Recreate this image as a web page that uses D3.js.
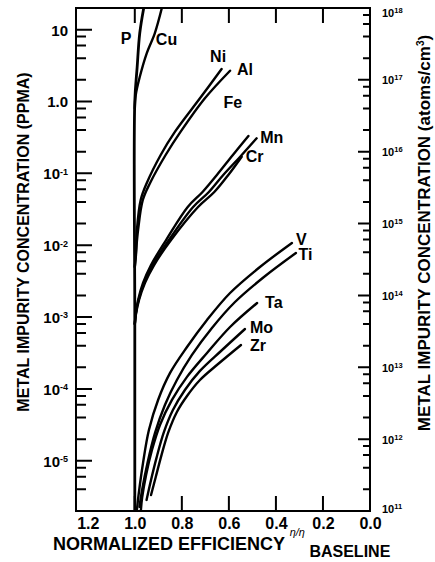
<!DOCTYPE html>
<html>
<head>
<meta charset="utf-8">
<script src="https://cdn.jsdelivr.net/npm/d3@7"></script>
<style>
  body { margin: 0; background: #fff; }
  svg { font-family: Arial, "Liberation Sans", Helvetica, sans-serif; font-weight: bold; }
  .curve { fill: none; stroke: #000; stroke-linecap: round; }
</style>
</head>
<body>
<div id="chart"></div>
<script>
// axis ticks and labels
const xTicks = [1.2, 1.0, 0.8, 0.6, 0.4, 0.2, 0.0];
const xTickLabels = ['1.2', '1.0', '0.8', '0.6', '0.4', '0.2', '0.0'];
const xInnerTicks = [1.0, 0.8, 0.6, 0.4, 0.2];
const ppmaTicks = [10, 1, 0.1, 0.01, 1e-3, 1e-4, 1e-5];
const ppmaTickLabels = [['10', ''], ['1.0', ''], ['10', '-1'], ['10', '-2'], ['10', '-3'], ['10', '-4'], ['10', '-5']];
const atomTicks = [1e11, 1e12, 1e13, 1e14, 1e15, 1e16, 1e17, 1e18];
const atomTickLabels = ['11', '12', '13', '14', '15', '16', '17', '18'];
const minorMultipliers = [2, 4, 6, 8];

// curves: [normalized efficiency, concentration in ppma]
const P = [[1.0, 2e-6], [1.0, 1e-3], [1.0, 1.0], [0.99, 3.0], [0.979, 8.9], [0.962, 20]];
const Cu = [[1.0, 0.8], [0.996, 1.23], [0.979, 2.19], [0.949, 4.72], [0.915, 8.9], [0.885, 20]];
const Ni = [[1.0, 0.005], [0.995, 0.0073], [0.991, 0.0163], [0.975, 0.0426], [0.949, 0.0734], [0.89, 0.18], [0.829, 0.38], [0.723, 1.108], [0.631, 2.83]];
const Al = [[1.0, 0.005], [0.995, 0.008], [0.986, 0.0163], [0.966, 0.0426], [0.935, 0.0734], [0.869, 0.18], [0.805, 0.38], [0.702, 1.108], [0.595, 2.68]];
const Fe = [[1.0, 8e-4], [0.995, 1.18e-3], [0.986, 1.73e-3], [0.965, 2.98e-3], [0.931, 5.3e-3], [0.867, 0.0118], [0.775, 0.034], [0.712, 0.055], [0.651, 0.0949], [0.583, 0.18], [0.517, 0.331]];
const Mn = [[1.0, 8e-4], [0.995, 1.14e-3], [0.984, 1.73e-3], [0.961, 2.98e-3], [0.923, 5.3e-3], [0.855, 0.0118], [0.752, 0.034], [0.685, 0.055], [0.624, 0.0949], [0.553, 0.169], [0.482, 0.3075]];
const Cr = [[1.0, 8e-4], [0.995, 1.1e-3], [0.982, 1.73e-3], [0.957, 2.98e-3], [0.918, 5.3e-3], [0.846, 0.0118], [0.731, 0.034], [0.662, 0.055], [0.6025, 0.0949], [0.5455, 0.1705]];
const V = [[0.991, 2.07e-6], [0.984, 3.34e-6], [0.965, 9.32e-6], [0.94, 2.68e-5], [0.901, 7.02e-5], [0.85, 1.67e-4], [0.778, 3.83e-4], [0.693, 9.1e-4], [0.595, 2.16e-3], [0.468, 4.97e-3], [0.332, 0.01074]];
const Ti = [[0.98, 2.28e-6], [0.969, 3.92e-6], [0.946, 9.32e-6], [0.914, 2.44e-5], [0.872, 5.98e-5], [0.821, 1.33e-4], [0.757, 2.97e-4], [0.672, 7.05e-4], [0.574, 1.62e-3], [0.451, 3.61e-3], [0.315, 7.79e-3]];
const Ta = [[0.974, 2.07e-6], [0.969, 3.04e-6], [0.952, 6.35e-6], [0.927, 1.41e-5], [0.893, 3.15e-5], [0.842, 7.02e-5], [0.778, 1.47e-4], [0.693, 3.16e-4], [0.595, 7.27e-4], [0.48, 1.57e-3]];
const Mo = [[0.95, 2.85e-6], [0.931, 5.4e-6], [0.908, 1.09e-5], [0.876, 2.52e-5], [0.838, 5.09e-5], [0.787, 9.66e-5], [0.723, 1.78e-4], [0.6335, 3.37e-4], [0.5315, 6.82e-4]];
const Zr = [[0.931, 3.34e-6], [0.912, 5.76e-6], [0.8865, 1.2e-5], [0.857, 2.52e-5], [0.821, 4.78e-5], [0.778, 7.97e-5], [0.723, 1.33e-4], [0.646, 2.22e-4], [0.5485, 4.09e-4]];

const series = [
  { name: 'P', points: P },
  { name: 'Cu', points: Cu },
  { name: 'Ni', points: Ni },
  { name: 'Al', points: Al },
  { name: 'Fe', points: Fe },
  { name: 'Mn', points: Mn },
  { name: 'Cr', points: Cr },
  { name: 'V', points: V },
  { name: 'Ti', points: Ti },
  { name: 'Ta', points: Ta },
  { name: 'Mo', points: Mo },
  { name: 'Zr', points: Zr },
];

// label placement relative to the last point of each curve (px)
const labelOffset = {
  P: [-23, 35.5], Cu: [-6, 37], Ni: [-11.5, -7.5], Al: [7, 4.3], Fe: [-25, -28],
  Mn: [3.5, 5], Cr: [4, 5], V: [4, 2], Ti: [2.5, 7], Ta: [8, 5], Mo: [5, 4], Zr: [9, 6.5],
};

const width = 435;
const height = 562;
const plot = { left: 76, right: 370, top: 8, bottom: 511 };

const svg = d3.select('#chart')
  .append('svg')
  .attr('width', width)
  .attr('height', height);

const x = d3.scaleLinear().domain([1.25, 0]).range([plot.left, plot.right]);
const y = d3.scaleLog().domain([2e-6, 20]).range([plot.bottom, plot.top]);
const yRight = d3.scaleLog().domain([1e11, 1e18]).range([plot.bottom, plot.top]);

const minorTicks = (domain) => {
  const out = [];
  const k0 = Math.floor(Math.log10(domain[0]));
  const k1 = Math.ceil(Math.log10(domain[1]));
  for (let k = k0; k <= k1; k++) {
    for (const m of minorMultipliers) {
      const v = m * Math.pow(10, k);
      if (v >= domain[0] * 0.999 && v <= domain[1] * 1.001) out.push(v);
    }
  }
  return out;
};

// curves
svg.append('clipPath')
  .attr('id', 'plot-clip')
  .append('rect')
  .attr('x', plot.left)
  .attr('y', plot.top)
  .attr('width', plot.right - plot.left)
  .attr('height', plot.bottom - plot.top);

const curve = d3.line()
  .x((d) => x(d[0]))
  .y((d) => y(d[1]))
  .curve(d3.curveCatmullRom.alpha(0.5));

svg.append('g')
  .attr('clip-path', 'url(#plot-clip)')
  .selectAll('path')
  .data(series)
  .join('path')
  .attr('class', 'curve')
  .attr('stroke-width', (d) => (d.name === 'P' ? 2.8 : 2.4))
  .attr('d', (d) => curve(d.points));

svg.append('g')
  .selectAll('text')
  .data(series)
  .join('text')
  .attr('font-size', 16)
  .attr('x', (d) => x(d.points[d.points.length - 1][0]) + labelOffset[d.name][0])
  .attr('y', (d) => y(d.points[d.points.length - 1][1]) + labelOffset[d.name][1])
  .text((d) => d.name);

// axis titles
svg.append('text')
  .attr('transform', 'translate(29, 242) rotate(-90)')
  .attr('text-anchor', 'middle')
  .attr('font-size', 16)
  .text('METAL IMPURITY CONCENTRATION (PPMA)');

const rightTitle = svg.append('text')
  .attr('transform', 'translate(430, 233) rotate(-90)')
  .attr('text-anchor', 'middle')
  .attr('font-size', 17);
rightTitle.append('tspan').text('METAL IMPURITY CONCENTRATION (atoms/cm');
rightTitle.append('tspan').attr('font-size', 10).attr('dy', -6).text('3');
rightTitle.append('tspan').attr('dy', 6).text(')');

const xTitle = svg.append('text')
  .attr('x', 53)
  .attr('y', 550)
  .attr('font-size', 18);
xTitle.append('tspan').text('NORMALIZED EFFICIENCY ');
xTitle.append('tspan').attr('font-size', 11).attr('font-style', 'italic')
  .attr('font-weight', 'normal').attr('dy', -14).text('η/η');
xTitle.append('tspan').attr('font-size', 16).attr('dy', 21).text(' BASELINE');

// tick labels
const noDomain = (g) => g.select('.domain').remove();

svg.append('g')
  .attr('transform', `translate(0, ${plot.bottom})`)
  .call(d3.axisBottom(x).tickValues(xTicks).tickSize(0).tickPadding(7)
    .tickFormat((d, i) => xTickLabels[i]))
  .call(noDomain)
  .call((g) => g.selectAll('text').attr('font-size', 16).attr('fill', '#000'));

svg.append('g')
  .attr('transform', `translate(${plot.left}, 0)`)
  .call(d3.axisLeft(y).tickValues(ppmaTicks).tickSize(0).tickPadding(8).tickFormat(''))
  .call(noDomain)
  .call((g) => g.selectAll('.tick text').each(function (d, i) {
    const t = d3.select(this).attr('font-size', 15).attr('fill', '#000').attr('dy', '0.36em');
    const [base, exp] = ppmaTickLabels[i];
    t.append('tspan').text(base);
    if (exp) t.append('tspan').attr('font-size', 9).attr('dy', -4.5).text(exp);
  }));

svg.append('g')
  .attr('transform', `translate(${plot.right}, 0)`)
  .call(d3.axisRight(yRight).tickValues(atomTicks).tickSize(0).tickPadding(12).tickFormat(''))
  .call(noDomain)
  .call((g) => g.selectAll('.tick text').each(function (d, i) {
    const shift = i === 0 ? -3 : i === atomTicks.length - 1 ? 4 : 0;
    const t = d3.select(this).attr('font-size', 11).attr('fill', '#000')
      .attr('dy', null).attr('y', shift + 4);
    t.append('tspan').text('10');
    t.append('tspan').attr('font-size', 7.5).attr('dy', -4).text(atomTickLabels[i]);
  }));

// frame
svg.append('rect')
  .attr('x', plot.left)
  .attr('y', plot.top)
  .attr('width', plot.right - plot.left)
  .attr('height', plot.bottom - plot.top)
  .attr('fill', 'none')
  .attr('stroke', '#000')
  .attr('stroke-width', 2);

// inward tick marks, drawn last
const tickPath = (values, pos, fixed, len, vertical) => values
  .map((v) => (vertical
    ? `M${pos(v)},${fixed}V${fixed + len}`
    : `M${fixed},${pos(v)}H${fixed + len}`))
  .join(' ');

const tickMarks = svg.append('g')
  .attr('fill', 'none')
  .attr('stroke', '#000')
  .attr('stroke-width', 2);
tickMarks.append('path').attr('d', tickPath(xInnerTicks, x, plot.bottom, -15, true));
tickMarks.append('path').attr('d', tickPath(xInnerTicks, x, plot.top, 15, true));
tickMarks.append('path').attr('d', tickPath(ppmaTicks, y, plot.left, 16, false));
tickMarks.append('path').attr('d', tickPath(minorTicks(y.domain()), y, plot.left, 10, false));
tickMarks.append('path').attr('d', tickPath(atomTicks, yRight, plot.right, -12, false));
tickMarks.append('path').attr('d', tickPath(minorTicks(yRight.domain()), yRight, plot.right, -7, false));
</script>
</body>
</html>
